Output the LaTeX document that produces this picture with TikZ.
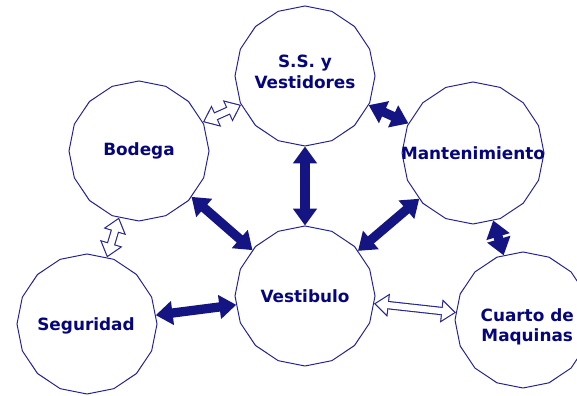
\documentclass[tikz,border=0pt]{standalone}
\usepackage{fontspec}
\newfontfamily\roomfont{DejaVu Sans}
\usetikzlibrary{shapes.geometric,arrows.meta}
\definecolor{roomblue}{RGB}{35,35,150}
\definecolor{roomtext}{RGB}{5,5,125}
\definecolor{linkblue}{RGB}{20,20,130}

\begin{document}
\begin{tikzpicture}[
  every node/.style = {font=\roomfont\bfseries\fontsize{12}{14.5}\selectfont, text=roomtext},
  room/.style  = {draw=roomblue, line width=0.7pt, regular polygon, regular polygon sides=16,
                  shape border rotate=11.25, minimum size=3.5cm, inner sep=0pt},
  tag/.style   = {align=center, inner sep=1pt},
  strong/.style = {draw=linkblue, line width=6.6pt,
                   arrows={Triangle[width=16.5pt,length=12pt]-Triangle[width=16.5pt,length=12pt]}},
  weak/.style  = {draw=roomblue, line width=6pt,
                  arrows={Triangle[width=16pt,length=10.5pt]-Triangle[width=16pt,length=10.5pt]},
                  postaction={draw=white, line width=4.4pt, shorten <=1.32pt, shorten >=1.32pt,
                    arrows={Triangle[width=12.8pt,length=8.4pt]-Triangle[width=12.8pt,length=8.4pt]}}},
]
\useasboundingbox (0,0) rectangle (14.425,9.9);

% --- rooms ---------------------------------------------------------------
\node[room] (ss) at (7.625,8.0) {};
\node[tag] (ss-txt) at (7.625,8.1) {S.S. y\\ Vestidores};

\node[room] (bod) at (3.475,6.125) {};
\node[tag] (bod-txt) at (bod) {Bodega};

\node[room, minimum size=3.55cm] (mant) at (11.825,6.075) {};
\node[tag] (mant-txt) at (mant) {Mantenimiento};

\node[room] (vest) at (7.625,2.5) {};
\node[tag] (vest-txt) at (vest) {Vestibulo};

\node[room] (seg) at (2.175,1.8) {};
\node[tag] (seg-txt) at (2.15,1.75) {Seguridad};

\node[room, minimum size=3.4cm] (cuarto) at (13.075,1.9) {};
\node[tag] (cuarto-txt) at (13.18,1.73) {Cuarto de\\ Maquinas};

% --- links between rooms -------------------------------------------------
\draw[weak] (bod) -- (ss);
\draw[strong] (ss) -- (mant);
\draw[strong] (ss) -- (vest);
\draw[strong] (bod) -- (vest);
\draw[strong] (mant) -- (vest);
\draw[strong] (mant) -- (cuarto);
\draw[weak] (bod) -- (seg);
\draw[strong] (seg) -- (vest);
\draw[weak] (vest) -- (cuarto);

\end{tikzpicture}
\end{document}
